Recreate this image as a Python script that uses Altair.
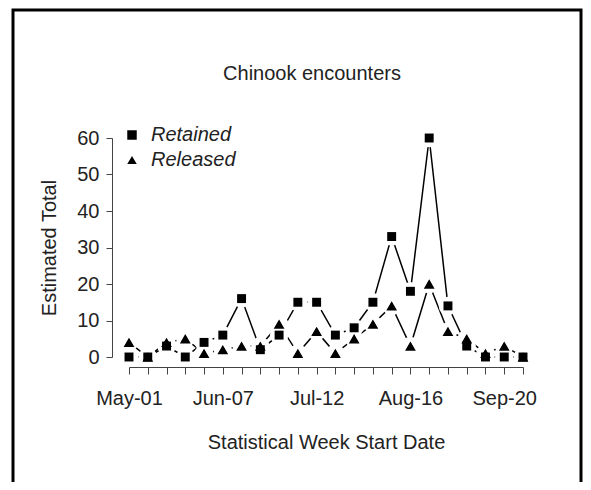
import altair as alt
import pandas as pd

week_labels = ["May-01", "May-10", "May-17", "May-24", "May-31", "Jun-07", "Jun-14",
               "Jun-21", "Jun-28", "Jul-05", "Jul-12", "Jul-19", "Jul-26", "Aug-02",
               "Aug-09", "Aug-16", "Aug-23", "Aug-30", "Sep-06", "Sep-13", "Sep-20",
               "Sep-27"]
retained = [0, 0, 3, 0, 4, 6, 16, 2, 6, 15, 15, 6, 8, 15, 33, 18, 60, 14, 3, 0, 0, 0]
released = [4, 0, 4, 5, 1, 2, 3, 3, 9, 1, 7, 1, 5, 9, 14, 3, 20, 7, 5, 1, 3, 0]
series_names = ["Retained", "Released"]
y_ticks = [0, 10, 20, 30, 40, 50, 60]

rows = []
for i in range(len(week_labels)):
    rows.append({"week": i, "count": retained[i], "series": "Retained"})
    rows.append({"week": i, "count": released[i], "series": "Released"})
df = pd.DataFrame(rows)

FONT = "Liberation Sans"
FS = 20
label_arr = "[" + ",".join("'" + s + "'" for s in week_labels) + "]"
label_expr = f"datum.value % 5 == 0 ? {label_arr}[datum.value] : ''"

x_enc = alt.X(
    "week:Q",
    scale=alt.Scale(domain=[0, len(week_labels) - 1], nice=False, zero=False),
    axis=alt.Axis(
        values=list(range(len(week_labels))),
        labelExpr=label_expr,
        title="Statistical Week Start Date",
        offset=10, tickSize=7, labelPadding=14, grid=False,
        labelOverlap=False, labelFlush=False,
        titleY=81, titleBaseline="alphabetic",
    ),
)
y_enc = alt.Y(
    "count:Q",
    scale=alt.Scale(domain=[0, 60], nice=False),
    axis=alt.Axis(
        values=y_ticks, title="Estimated Total", offset=17, tickSize=6,
        labelPadding=7, grid=False, titleX=-57, titleBaseline="alphabetic",
    ),
)

base = alt.Chart(df)
lines = base.mark_line(color="black", strokeWidth=1.5).encode(
    x=x_enc, y=y_enc, detail="series:N"
)
halos = base.mark_point(filled=True, shape="circle", size=340, color="white", opacity=1).encode(
    x=x_enc, y=y_enc
)
markers = base.mark_point(filled=True, opacity=1, color="black", size=80).encode(
    x=x_enc, y=y_enc,
    shape=alt.Shape(
        "series:N",
        scale=alt.Scale(domain=series_names, range=["square", "triangle-up"]),
        legend=alt.Legend(
            title=None, orient="none", legendX=-7, legendY=-13,
            labelFontSize=FS, labelFontStyle="italic", labelFont=FONT,
            labelColor="#222", symbolSize=90, symbolFillColor="black",
            symbolStrokeWidth=0, labelOffset=9, rowPadding=5, padding=0,
        ),
    ),
)
triangles = base.transform_filter(alt.datum.series == "Released").mark_point(
    filled=True, opacity=1, color="black", size=115, shape="triangle-up"
).encode(x=x_enc, y=y_enc)

title_df = pd.DataFrame({"t": ["Chinook encounters"]})
title = alt.Chart(title_df).mark_text(
    font=FONT, fontSize=FS, color="#222", baseline="alphabetic", align="center"
).encode(text="t:N", x=alt.value(183), y=alt.value(-58))

frame = alt.Chart(title_df).mark_rect(
    filled=False, stroke="black", strokeWidth=3
).encode(x=alt.value(-116), x2=alt.value(452), y=alt.value(-128), y2=alt.value(400))

chart = alt.layer(frame, lines, halos, markers, triangles, title).properties(
    width=394, height=219,
    autosize=alt.AutoSizeParams(type="none"),
    padding={"left": 121, "top": 130, "right": 60, "bottom": 125},
).configure_view(stroke=None).configure_axis(
    labelFont=FONT, titleFont=FONT, labelFontSize=FS, titleFontSize=FS,
    labelColor="#222", titleColor="#222", titleFontWeight="normal",
    domainColor="#444", tickColor="#444", domainWidth=1, tickWidth=1,
)

chart.save("out.html", embed_options={"renderer": "svg", "actions": False})
